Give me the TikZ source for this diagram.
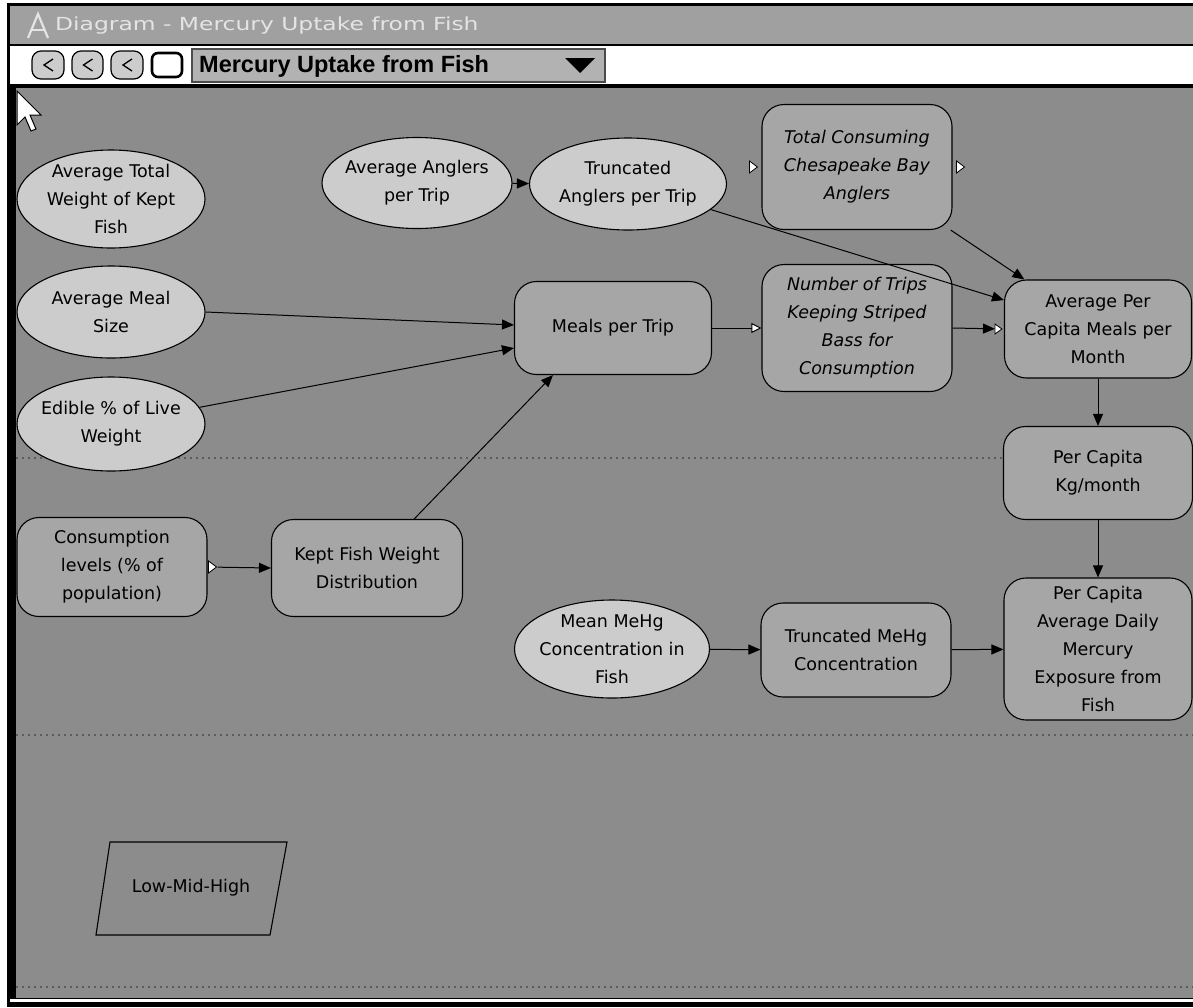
\documentclass[tikz,border=0pt]{standalone}
\usepackage{graphicx}
\usepackage{fontspec}
\setmainfont{DejaVu Sans}
\newfontfamily\barfont{Liberation Sans}
\usetikzlibrary{shapes.geometric,arrows.meta,calc}

\definecolor{canvas}{HTML}{8C8C8C}
\definecolor{titlegray}{HTML}{A0A0A0}
\definecolor{titleink}{HTML}{E4E4E4}
\definecolor{ovalfill}{HTML}{CCCCCC}
\definecolor{boxfill}{HTML}{A6A6A6}
\definecolor{selectfill}{HTML}{B2B2B2}
\definecolor{breakline}{HTML}{5C5C5C}

\begin{document}
\begin{tikzpicture}[x=1pt,y=-1pt,
  lbl/.style={font=\fontsize{17.5}{28}\selectfont, align=center, text=black},
  oval/.style={lbl, ellipse, draw=black, line width=1.1pt, fill=ovalfill, inner sep=-40pt},
  varbox/.style={lbl, rectangle, rounded corners=22pt, draw=black, line width=1.1pt, fill=boxfill, inner sep=0pt},
  link/.style={draw=black, line width=1pt, -{Triangle[length=12pt,width=10pt]}},
  hollowlink/.style={draw=black, line width=1pt, -{Triangle[length=10pt,width=10pt,fill=white]}},
  marker/.style={draw=black, fill=white, line width=0.8pt},
  pagebreak/.style={draw=breakline, line width=1.2pt, dash pattern=on 1.5pt off 4.5pt},
  toolicon/.style={draw=black, fill=ovalfill, line width=1.2pt, rounded corners=9pt}
]
\useasboundingbox (0,0) rectangle (1193,1007);
\fill[white] (0,0) rectangle (1193,1007);

% window frame, title bar, toolbar and drawing area
\fill[black] (7,3) rectangle (1193,1007);
\fill[titlegray] (10,6) rectangle (1193,44);
\fill[white] (10,46) rectangle (1193,84);
\fill[canvas] (16,88) rectangle (1193,998);
\fill[white] (10,999) rectangle (1193,1001.5);

% title bar: application logo and window title
\draw[titleink, line width=2.2pt, line join=miter] (28,38) -- (38,14) -- (48,38);
\draw[titleink, line width=2pt] (32,30) -- (44,30);
\node[anchor=west, text=titleink, font=\fontsize{18}{20}\selectfont, inner sep=0pt]
  (wtitle) at (55,26) {\scalebox{1.3}[1]{Diagram - Mercury Uptake from Fish}};

% toolbar buttons
\draw[toolicon] (32,51) rectangle (64,79);
\draw[toolicon] (72,51) rectangle (103,79);
\draw[toolicon] (111,51) rectangle (143,79);
\foreach \cx in {48,87.5,127}{
  \draw[black, line width=1.3pt] (\cx+5,59) -- (\cx-4,65) -- (\cx+5,71);
}
\draw[black, fill=white, line width=2.6pt, rounded corners=6pt] (152,53) rectangle (182,77);

% module selector
\draw[fill=selectfill, draw=black!70, line width=1.2pt] (192,49) rectangle (605,82);
\node[anchor=west, inner sep=0pt, font=\barfont\bfseries\fontsize{23.5}{26}\selectfont]
  (modname) at (199,66) {Mercury Uptake from Fish};
\fill[black] (565,58) -- (595,58) -- (580,73) -- cycle;

% mouse pointer
\draw[fill=white, line width=1pt, line join=miter] (17,91) -- ++(0,34) -- ++(8,-8) -- ++(6,14)
  -- ++(5,-2) -- ++(-6,-14) -- ++(11,0) -- cycle;

% page breaks
\draw[pagebreak] (16,458) -- (1193,458);
\draw[pagebreak] (16,735) -- (1193,735);
\draw[pagebreak] (16,987) -- (1193,987);

% chance variables
\node[oval, minimum width=188, minimum height=98] (avgw) at (111,199) {Average Total\\Weight of Kept\\Fish};
\node[oval, minimum width=188, minimum height=92] (ams) at (111,312) {Average Meal\\Size};
\node[oval, minimum width=188, minimum height=94] (edl) at (111,424) {Edible \% of Live\\Weight};
\node[oval, minimum width=190, minimum height=91] (apt) at (417,183) {Average Anglers\\per Trip};
\node[oval, minimum width=197, minimum height=92] (tap) at (628,184) {Truncated\\Anglers per Trip};
\node[oval, minimum width=195, minimum height=98] (mmc) at (612,649) {Mean MeHg\\Concentration in\\Fish};

% deterministic variables
\node[varbox, minimum width=190, minimum height=125, font=\fontsize{17.5}{28}\selectfont\itshape] (tc) at (857,167) {Total Consuming\\Chesapeake Bay\\Anglers};
\node[varbox, minimum width=197, minimum height=93] (mpt) at (613,328) {Meals per Trip};
\node[varbox, minimum width=190, minimum height=127, font=\fontsize{17.5}{28}\selectfont\itshape] (ntb) at (857,328) {Number of Trips\\Keeping Striped\\Bass for\\Consumption};
\node[varbox, minimum width=187, minimum height=98] (apc) at (1098,329) {Average Per\\Capita Meals per\\Month};
\node[varbox, minimum width=189, minimum height=93] (pck) at (1098,473) {Per Capita\\Kg/month};
\node[varbox, minimum width=190, minimum height=99] (cl) at (112,567) {Consumption\\levels (\% of\\population)};
\node[varbox, minimum width=191, minimum height=97] (kfw) at (367,568) {Kept Fish Weight\\Distribution};
\node[varbox, minimum width=190, minimum height=94] (tmc) at (856,650) {Truncated MeHg\\Concentration};
\node[varbox, minimum width=188, minimum height=142] (pad) at (1098,649) {Per Capita\\Average Daily\\Mercury\\Exposure from\\Fish};

% index
\draw[black, line width=1.1pt] (110,842) -- (287,842) -- (270,935) -- (96,935) -- cycle;
\node[lbl] (lmh) at (191,888) {Low-Mid-High};

% influences
\draw[link] (apt) -- (tap);
\draw[link] (tap) -- (apc);
\draw[link] (tc) -- (apc);
\draw[link] (ams.east) -- ($(mpt.west)+(0,-3)$);
\draw[link] (edl) -- ($(mpt.west)+(0,20)$);
\draw[link] (kfw) -- ($(mpt.south)+(-60,0)$);
\draw[link, shorten <=10pt] (cl.east) -- (kfw.west);
\draw[hollowlink] (mpt.east) -- (ntb.west);
\draw[link, shorten >=9pt] (ntb.east) -- (apc.west);
\draw[link] (apc) -- (pck);
\draw[link] (pck) -- (pad);
\draw[link] (mmc) -- (tmc);
\draw[link] (tmc) -- (pad);

% links to other modules
\draw[marker] ($(tc.west)+(-12,-6)$) -- ++(8,6) -- ++(-8,6) -- cycle;
\draw[marker] ($(tc.east)+(4,-6)$) -- ++(8,6) -- ++(-8,6) -- cycle;
\draw[marker] ($(cl.east)+(1,-6)$) -- ++(8,6) -- ++(-8,6) -- cycle;
\draw[marker] ($(apc.west)+(-9,-5)$) -- ++(7,5) -- ++(-7,5) -- cycle;
\end{tikzpicture}
\end{document}
